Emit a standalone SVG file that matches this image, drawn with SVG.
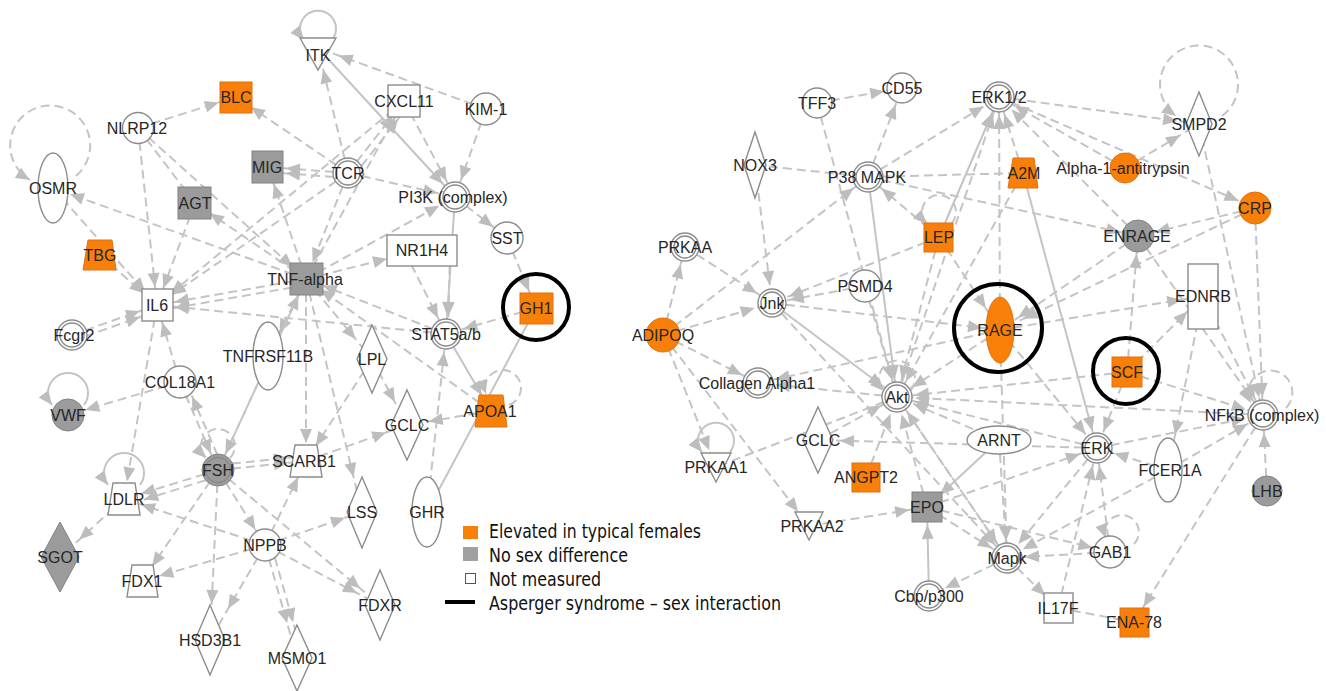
<svg xmlns="http://www.w3.org/2000/svg" width="1326" height="691" viewBox="0 0 1326 691">
<style>
.e{fill:none;stroke:#c4c4c4;stroke-width:2}
.d{stroke-dasharray:9 5}
.a0{marker-end:url(#m0)}
.a18{marker-end:url(#m18)}
.a22{marker-end:url(#m22)}
.a26{marker-end:url(#m26)}
.a36{marker-end:url(#m36)}
.n{fill:#fff;stroke:#8c8c8c;stroke-width:1.4}
.o{fill:#f98008;stroke:#e07010;stroke-width:1}
.g{fill:#9b9b9b;stroke:#828282;stroke-width:1}
.ring{fill:none;stroke:#000;stroke-width:4}
text{font-family:"Liberation Sans",Arial,sans-serif;font-size:16px;fill:#262626;text-anchor:middle}
.lg{font-family:"DejaVu Sans Condensed","DejaVu Sans",sans-serif;font-size:19px;text-anchor:start;fill:#111}
</style>
<defs>
<marker id="m0" markerUnits="userSpaceOnUse" markerWidth="14" markerHeight="12" refX="14" refY="6" orient="auto" overflow="visible"><path d="M0,0L14,6L0,12z" fill="#bdbdbd"/></marker>
<marker id="m18" markerUnits="userSpaceOnUse" markerWidth="14" markerHeight="12" refX="32" refY="6" orient="auto" overflow="visible"><path d="M0,0L14,6L0,12z" fill="#bdbdbd"/></marker>
<marker id="m22" markerUnits="userSpaceOnUse" markerWidth="14" markerHeight="12" refX="36" refY="6" orient="auto" overflow="visible"><path d="M0,0L14,6L0,12z" fill="#bdbdbd"/></marker>
<marker id="m26" markerUnits="userSpaceOnUse" markerWidth="14" markerHeight="12" refX="40" refY="6" orient="auto" overflow="visible"><path d="M0,0L14,6L0,12z" fill="#bdbdbd"/></marker>
<marker id="m36" markerUnits="userSpaceOnUse" markerWidth="14" markerHeight="12" refX="50" refY="6" orient="auto" overflow="visible"><path d="M0,0L14,6L0,12z" fill="#bdbdbd"/></marker>
</defs>
<rect width="1326" height="691" fill="#fff"/>
<g id="connectors">
<path class="e d a18" d="M138,128L236,97"/>
<path class="e d a18" d="M138,128L157,305"/>
<path class="e d a18" d="M138,128L306,279"/>
<path class="e d" d="M138,128L195,203"/>
<path class="e d a18" d="M306,279L53,188"/>
<path class="e d a18" d="M53,188L157,305"/>
<path class="e d a18" d="M100,255L157,305"/>
<path class="e d a18" d="M348,173L236,97"/>
<path class="e d a18" d="M348,173L268,167"/>
<path class="e d a18" d="M348,178L268,172"/>
<path class="e d a18" d="M306,279L268,167"/>
<path class="e d a18" d="M306,279L195,203"/>
<path class="e d a18" d="M195,203L157,305"/>
<path class="e d a18" d="M306,279L157,305"/>
<path class="e d a18" d="M306,285L157,311"/>
<path class="e d a18" d="M348,173L157,305"/>
<path class="e d a18" d="M404,101L157,305"/>
<path class="e d a18" d="M348,173L306,279"/>
<path class="e d a36" d="M306,279L422,250"/>
<path class="e d a18" d="M306,279L455,197"/>
<path class="e d a18" d="M348,173L455,197"/>
<path class="e d a18" d="M348,173L404,101"/>
<path class="e d a18" d="M353,177L409,105"/>
<path class="e d a22" d="M348,173L318,48"/>
<path class="e d a22" d="M486,109L318,48"/>
<path class="e a18" d="M318,48L455,197"/>
<path class="e d a18" d="M404,101L455,197"/>
<path class="e d a18" d="M486,109L455,197"/>
<path class="e d a18" d="M455,197L507,238"/>
<path class="e d a18" d="M507,238L536,308"/>
<path class="e a18" d="M455,197L446,334"/>
<path class="e d a18" d="M405,252L446,334"/>
<path class="e d a18" d="M450,252L448,334"/>
<path class="e d a18" d="M536,308L446,334"/>
<path class="e" d="M427,512L536,308"/>
<path class="e d a18" d="M427,512L446,334"/>
<path class="e a18" d="M446,334L491,411"/>
<path class="e d a18" d="M491,411L306,279"/>
<path class="e d a22" d="M491,411L407,425"/>
<path class="e d a26" d="M372,359L407,425"/>
<path class="e d a26" d="M306,279L372,359"/>
<path class="e d a26" d="M306,279L268,356"/>
<path class="e d a18" d="M306,279L306,461"/>
<path class="e d a18" d="M446,334L306,279"/>
<path class="e d a18" d="M446,334L157,305"/>
<path class="e d a18" d="M180,382L157,305"/>
<path class="e d a18" d="M72,335L157,305"/>
<path class="e d a18" d="M72,341L157,311"/>
<path class="e d a18" d="M157,305L124,499"/>
<path class="e d a18" d="M180,382L68,415"/>
<path class="e d a18" d="M180,382L218,470"/>
<path class="e d a18" d="M223,468L185,380"/>
<path class="e d a18" d="M218,470L306,279"/>
<path class="e d a18" d="M218,470L124,499"/>
<path class="e d a18" d="M219,476L127,505"/>
<path class="e d a18" d="M218,470L306,461"/>
<path class="e d a18" d="M218,465L306,456"/>
<path class="e d a18" d="M218,470L142,581"/>
<path class="e d a36" d="M218,470L210,640"/>
<path class="e d a18" d="M218,470L265,545"/>
<path class="e d a26" d="M218,470L380,605"/>
<path class="e d a18" d="M265,545L124,499"/>
<path class="e d a18" d="M265,545L142,581"/>
<path class="e d a36" d="M265,545L210,640"/>
<path class="e d a36" d="M265,545L297,658"/>
<path class="e d a36" d="M271,544L303,657"/>
<path class="e d a18" d="M265,545L306,461"/>
<path class="e d a18" d="M265,545L362,512"/>
<path class="e d a26" d="M265,545L380,605"/>
<path class="e d a26" d="M124,499L60,557"/>
<path class="e d a36" d="M306,279L362,512"/>
<path class="e d a18" d="M306,279L218,470"/>
<path class="e d a18" d="M306,279L404,101"/>
<path class="e d a18" d="M372,359L306,461"/>
<path class="e d a22" d="M306,461L407,425"/>
<path class="e a0" d="M332,40A18 18 0 1 0 304,40"/>
<path class="e d a0" d="M76,176A40 40 0 1 0 30,180"/>
<path class="e a0" d="M84,405A20 20 0 1 0 52,405"/>
<path class="e a0" d="M140,485A20 20 0 1 0 108,485"/>
<path class="e d a0" d="M230,458A17 17 0 1 0 206,458"/>
<path class="e d a0" d="M509,405A18 18 0 1 0 486,394"/>

<path class="e d a18" d="M817,103L902,88"/>
<path class="e d a18" d="M817,103L897,397"/>
<path class="e d a18" d="M868,177L902,88"/>
<path class="e d a18" d="M868,177L999,97"/>
<path class="e d" d="M755,165L868,177"/>
<path class="e d a18" d="M755,165L772,303"/>
<path class="e d a18" d="M939,237L868,177"/>
<path class="e d a18" d="M663,335L868,177"/>
<path class="e a18" d="M868,177L897,397"/>
<path class="e d" d="M868,177L1023,173"/>
<path class="e d a18" d="M868,177L1138,236"/>
<path class="e d a18" d="M1023,173L999,97"/>
<path class="e d a18" d="M1125,168L999,97"/>
<path class="e d a22" d="M999,97L1199,124"/>
<path class="e d a22" d="M1125,168L1199,124"/>
<path class="e d a18" d="M999,97L1255,208"/>
<path class="e d a18" d="M1255,208L1138,236"/>
<path class="e d a18" d="M1255,208L1263,415"/>
<path class="e d a18" d="M1199,124L1263,415"/>
<path class="e d a26" d="M1255,208L1000,330"/>
<path class="e d a18" d="M1138,236L999,97"/>
<path class="e a18" d="M939,237L999,97"/>
<path class="e d a18" d="M1000,330L999,97"/>
<path class="e d a18" d="M897,397L999,97"/>
<path class="e a18" d="M1023,173L1097,448"/>
<path class="e d a18" d="M1023,173L897,397"/>
<path class="e d a18" d="M939,237L897,397"/>
<path class="e d a18" d="M939,237L772,303"/>
<path class="e d a26" d="M939,237L1000,330"/>
<path class="e d a18" d="M865,286L772,303"/>
<path class="e d a18" d="M865,286L897,397"/>
<path class="e a18" d="M772,303L897,397"/>
<path class="e d a18" d="M772,303L1000,330"/>
<path class="e d a18" d="M685,247L772,303"/>
<path class="e d a18" d="M663,335L685,247"/>
<path class="e d a18" d="M663,335L772,303"/>
<path class="e d a18" d="M663,335L758,383"/>
<path class="e d a18" d="M663,335L716,467"/>
<path class="e d a18" d="M663,335L809,526"/>
<path class="e d a18" d="M897,397L758,383"/>
<path class="e d a18" d="M818,440L897,397"/>
<path class="e d a22" d="M1097,448L818,440"/>
<path class="e d" d="M897,397L716,467"/>
<path class="e d a18" d="M866,477L897,397"/>
<path class="e d a18" d="M927,507L897,397"/>
<path class="e d a18" d="M999,440L897,397"/>
<path class="e d a18" d="M1000,330L897,397"/>
<path class="e d a18" d="M1127,372L897,397"/>
<path class="e d a18" d="M1263,415L897,397"/>
<path class="e d a18" d="M1097,448L897,397"/>
<path class="e d a18" d="M1007,558L897,397"/>
<path class="e a18" d="M999,440L927,507"/>
<path class="e d a18" d="M809,526L927,507"/>
<path class="e a18" d="M929,596L927,507"/>
<path class="e d a18" d="M927,507L1097,448"/>
<path class="e d a18" d="M927,507L1007,558"/>
<path class="e d a18" d="M927,507L1110,552"/>
<path class="e d a18" d="M1007,558L929,596"/>
<path class="e d a18" d="M1007,558L1058,608"/>
<path class="e d a18" d="M1058,608L1097,448"/>
<path class="e d" d="M1058,608L1134,622"/>
<path class="e d a18" d="M1263,415L1134,622"/>
<path class="e d a18" d="M1110,552L1007,558"/>
<path class="e d a18" d="M1110,552L1097,448"/>
<path class="e d a18" d="M1168,470L1097,448"/>
<path class="e d a18" d="M1168,470L1007,558"/>
<path class="e d a18" d="M1168,470L1263,415"/>
<path class="e d a18" d="M1097,448L1263,415"/>
<path class="e d a18" d="M1267,491L1263,415"/>
<path class="e d a18" d="M1203,296L1263,415"/>
<path class="e d a22" d="M1127,372L1203,296"/>
<path class="e d a18" d="M1127,372L1138,236"/>
<path class="e d a18" d="M1127,372L1263,415"/>
<path class="e d a18" d="M1127,372L1097,448"/>
<path class="e d a18" d="M1000,330L1097,448"/>
<path class="e d a18" d="M1000,330L1007,558"/>
<path class="e d a22" d="M1138,236L1000,330"/>
<path class="e d a22" d="M1000,330L1203,296"/>
<path class="e d a18" d="M999,440L1007,558"/>
<path class="e d a18" d="M897,397L1007,558"/>
<path class="e d a18" d="M1097,448L1007,558"/>
<path class="e d a36" d="M1203,296L1168,470"/>
<path class="e d a18" d="M1138,236L1263,415"/>
<path class="e d a18" d="M772,303L1007,558"/>
<path class="e d a18" d="M1000,330L758,383"/>
<path class="e d a0" d="M1222,116A39 39 0 1 0 1176,116"/>
<path class="e d a0" d="M951,224A17 17 0 1 0 927,224"/>
<path class="e a0" d="M730,452A18 18 0 1 0 702,452"/>
<path class="e d a0" d="M1286,408A22 22 0 1 0 1251,403"/>
<path class="e d a0" d="M1134,544A17 17 0 1 0 1106,538"/>
<path class="e d a0" d="M910,391A18 18 0 1 0 884,391"/>
</g>

<g id="ITK"><polygon class="n" points="300,38 336,38 318,70"/><text x="318" y="61">ITK</text></g>
<g id="BLC"><rect class="o" x="220" y="82" width="32" height="31"/><text x="236" y="103">BLC</text></g>
<g id="NLRP12"><circle class="n" cx="138" cy="128" r="15.5"/><text x="137" y="134">NLRP12</text></g>
<g id="CXCL11"><rect class="n" x="388" y="85" width="32" height="32"/><text x="404" y="107">CXCL11</text></g>
<g id="KIM-1"><circle class="n" cx="486" cy="109" r="16"/><text x="486" y="115">KIM-1</text></g>
<g id="MIG"><rect class="g" x="252" y="151" width="31" height="32"/><text x="267" y="173">MIG</text></g>
<g id="TCR"><circle class="n" cx="348" cy="173" r="15"/><circle class="n" cx="348" cy="173" r="12"/><text x="348" y="179">TCR</text></g>
<g id="PI3K"><circle class="n" cx="455" cy="197" r="15"/><circle class="n" cx="455" cy="197" r="12"/><text x="453" y="203">PI3K (complex)</text></g>
<g id="SST"><circle class="n" cx="507" cy="238" r="16"/><text x="507" y="244">SST</text></g>
<g id="OSMR"><ellipse class="n" cx="53" cy="188" rx="15" ry="35"/><text x="53" y="194">OSMR</text></g>
<g id="AGT"><rect class="g" x="178" y="187" width="33" height="32"/><text x="195" y="209">AGT</text></g>
<g id="TBG"><polygon class="o" points="88,240 112,240 116,270 83,270"/><text x="100" y="261">TBG</text></g>
<g id="IL6"><rect class="n" x="142" y="289" width="31" height="32"/><text x="157" y="311">IL6</text></g>
<g id="TNF-alpha"><rect class="g" x="290" y="263" width="33" height="32"/><text x="305" y="285">TNF-alpha</text></g>
<g id="NR1H4"><rect class="n" x="387" y="235" width="70" height="31"/><text x="422" y="256">NR1H4</text></g>
<g id="GH1"><rect class="o" x="520" y="293" width="33" height="31"/><text x="536" y="314">GH1</text><circle class="ring" cx="536" cy="307" r="33"/></g>
<g id="STAT5ab"><circle class="n" cx="446" cy="334" r="15"/><circle class="n" cx="446" cy="334" r="12"/><text x="446" y="340">STAT5a/b</text></g>
<g id="APOA1"><polygon class="o" points="479,395 503,395 507,427 475,427"/><text x="490" y="417">APOA1</text></g>
<g id="LPL"><polygon class="n" points="372,325 387,359 372,393 357,359"/><text x="372" y="365">LPL</text></g>
<g id="GCLC-L"><polygon class="n" points="407,390 423,425 407,460 391,425"/><text x="407" y="431">GCLC</text></g>
<g id="TNFRSF11B"><ellipse class="n" cx="268" cy="356" rx="15" ry="34"/><text x="268" y="362">TNFRSF11B</text></g>
<g id="Fcgr2"><circle class="n" cx="72" cy="335" r="15"/><circle class="n" cx="72" cy="335" r="12"/><text x="74" y="341">Fcgr2</text></g>
<g id="COL18A1"><circle class="n" cx="180" cy="382" r="16"/><text x="180" y="388">COL18A1</text></g>
<g id="VWF"><circle class="g" cx="68" cy="415" r="16"/><text x="68" y="421">VWF</text></g>
<g id="FSH"><circle class="g" cx="218" cy="470" r="16"/><circle fill="none" stroke="#808080" stroke-width="1" cx="218" cy="470" r="12.5"/><text x="218" y="476">FSH</text></g>
<g id="SCARB1"><polygon class="n" points="295,445 317,445 322,477 290,477"/><text x="304" y="467">SCARB1</text></g>
<g id="LDLR"><polygon class="n" points="113,483 135,483 140,515 108,515"/><text x="124" y="505">LDLR</text></g>
<g id="SGOT"><polygon class="g" points="60,522 79,557 60,592 41,557"/><text x="60" y="563">SGOT</text></g>
<g id="FDX1"><polygon class="n" points="132,565 153,565 158,597 127,597"/><text x="142" y="587">FDX1</text></g>
<g id="NPPB"><circle class="n" cx="265" cy="545" r="16"/><text x="265" y="551">NPPB</text></g>
<g id="HSD3B1"><polygon class="n" points="210,605 225,640 210,675 195,640"/><text x="210" y="646">HSD3B1</text></g>
<g id="MSMO1"><polygon class="n" points="297,625 312,658 297,691 282,658"/><text x="297" y="664">MSMO1</text></g>
<g id="LSS"><polygon class="n" points="362,477 377,512 362,548 347,512"/><text x="362" y="518">LSS</text></g>
<g id="GHR"><ellipse class="n" cx="427" cy="512" rx="15" ry="35"/><text x="427" y="518">GHR</text></g>
<g id="FDXR"><polygon class="n" points="380,570 395,605 380,640 365,605"/><text x="380" y="611">FDXR</text></g>

<g id="TFF3"><circle class="n" cx="817" cy="103" r="15"/><text x="817" y="109">TFF3</text></g>
<g id="CD55"><circle class="n" cx="902" cy="88" r="15"/><text x="902" y="94">CD55</text></g>
<g id="ERK12"><circle class="n" cx="999" cy="97" r="15"/><circle class="n" cx="999" cy="97" r="12"/><text x="999" y="103">ERK1/2</text></g>
<g id="NOX3"><polygon class="n" points="755,132 766,165 755,198 744,165"/><text x="755" y="171">NOX3</text></g>
<g id="P38MAPK"><circle class="n" cx="868" cy="177" r="15"/><circle class="n" cx="868" cy="177" r="12"/><text x="867" y="183">P38 MAPK</text></g>
<g id="A2M"><polygon class="o" points="1013,158 1034,158 1038,188 1008,188"/><text x="1024" y="179">A2M</text></g>
<g id="Alpha1"><circle class="o" cx="1125" cy="168" r="15"/><text x="1123" y="174">Alpha-1-antitrypsin</text></g>
<g id="SMPD2"><polygon class="n" points="1199,92 1212,124 1199,156 1186,124"/><text x="1199" y="130">SMPD2</text></g>
<g id="CRP"><circle class="o" cx="1255" cy="208" r="16"/><text x="1255" y="214">CRP</text></g>
<g id="ENRAGE"><circle class="g" cx="1138" cy="236" r="16"/><text x="1137" y="242">ENRAGE</text></g>
<g id="LEP"><rect class="o" x="924" y="223" width="29" height="29"/><text x="939" y="243">LEP</text></g>
<g id="PRKAA"><circle class="n" cx="685" cy="247" r="14"/><circle class="n" cx="685" cy="247" r="11"/><text x="685" y="253">PRKAA</text></g>
<g id="Jnk"><circle class="n" cx="772" cy="303" r="14"/><circle class="n" cx="772" cy="303" r="11"/><text x="772" y="309">Jnk</text></g>
<g id="PSMD4"><circle class="n" cx="865" cy="286" r="16"/><text x="865" y="292">PSMD4</text></g>
<g id="ADIPOQ"><circle class="o" cx="663" cy="335" r="17"/><text x="663" y="341">ADIPOQ</text></g>
<g id="RAGE"><ellipse class="o" cx="1000" cy="330" rx="14" ry="33"/><text x="1000" y="336">RAGE</text><circle class="ring" cx="998" cy="328" r="44"/></g>
<g id="EDNRB"><rect class="n" x="1188" y="264" width="30" height="65"/><text x="1203" y="302">EDNRB</text></g>
<g id="SCF"><rect class="o" x="1112" y="357" width="30" height="30"/><text x="1127" y="378">SCF</text><circle class="ring" cx="1126" cy="371" r="33"/></g>
<g id="NFkB"><circle class="n" cx="1263" cy="415" r="15"/><circle class="n" cx="1263" cy="415" r="12"/><text x="1262" y="421">NFkB (complex)</text></g>
<g id="ARNT"><ellipse class="n" cx="999" cy="440" rx="32" ry="14"/><text x="999" y="446">ARNT</text></g>
<g id="ERK"><circle class="n" cx="1097" cy="448" r="15"/><circle class="n" cx="1097" cy="448" r="12"/><text x="1097" y="454">ERK</text></g>
<g id="FCER1A"><ellipse class="n" cx="1168" cy="470" rx="14" ry="32"/><text x="1170" y="476">FCER1A</text></g>
<g id="Akt"><circle class="n" cx="897" cy="397" r="15"/><circle class="n" cx="897" cy="397" r="12"/><text x="897" y="403">Akt</text></g>
<g id="CollagenAlpha1"><circle class="n" cx="758" cy="383" r="15"/><circle class="n" cx="758" cy="383" r="12"/><text x="757" y="389">Collagen Alpha1</text></g>
<g id="GCLC-R"><polygon class="n" points="818,407 833,440 818,473 803,440"/><text x="818" y="446">GCLC</text></g>
<g id="PRKAA1"><polygon class="n" points="701,453 731,453 716,482"/><text x="716" y="473">PRKAA1</text></g>
<g id="ANGPT2"><rect class="o" x="852" y="463" width="28" height="29"/><text x="866" y="483">ANGPT2</text></g>
<g id="PRKAA2"><polygon class="n" points="795,512 823,512 809,540"/><text x="812" y="532">PRKAA2</text></g>
<g id="EPO"><rect class="g" x="912" y="492" width="30" height="30"/><text x="927" y="513">EPO</text></g>
<g id="Mapk"><circle class="n" cx="1007" cy="558" r="15"/><circle class="n" cx="1007" cy="558" r="12"/><text x="1007" y="564">Mapk</text></g>
<g id="GAB1"><circle class="n" cx="1110" cy="552" r="16"/><text x="1110" y="558">GAB1</text></g>
<g id="LHB"><circle class="g" cx="1267" cy="491" r="15"/><text x="1267" y="497">LHB</text></g>
<g id="Cbpp300"><circle class="n" cx="929" cy="596" r="15"/><circle class="n" cx="929" cy="596" r="12"/><text x="929" y="602">Cbp/p300</text></g>
<g id="IL17F"><rect class="n" x="1044" y="593" width="29" height="30"/><text x="1058" y="614">IL17F</text></g>
<g id="ENA-78"><rect class="o" x="1120" y="608" width="29" height="29"/><text x="1134" y="628">ENA-78</text></g>

<g id="legend">
<rect x="463" y="526" width="15" height="13" fill="#f98008"/>
<rect x="463" y="547" width="15" height="14" fill="#a0a0a0"/>
<rect x="465.5" y="573.5" width="10" height="10" fill="#fff" stroke="#555" stroke-width="1"/>
<line x1="445" y1="602" x2="475" y2="602" stroke="#000" stroke-width="4"/>
<text class="lg" x="489" y="538" textLength="212" lengthAdjust="spacingAndGlyphs">Elevated in typical females</text>
<text class="lg" x="489" y="562" textLength="139" lengthAdjust="spacingAndGlyphs">No sex difference</text>
<text class="lg" x="489" y="586" textLength="112" lengthAdjust="spacingAndGlyphs">Not measured</text>
<text class="lg" x="489" y="610" textLength="292" lengthAdjust="spacingAndGlyphs">Asperger syndrome – sex interaction</text>
</g>
</svg>
